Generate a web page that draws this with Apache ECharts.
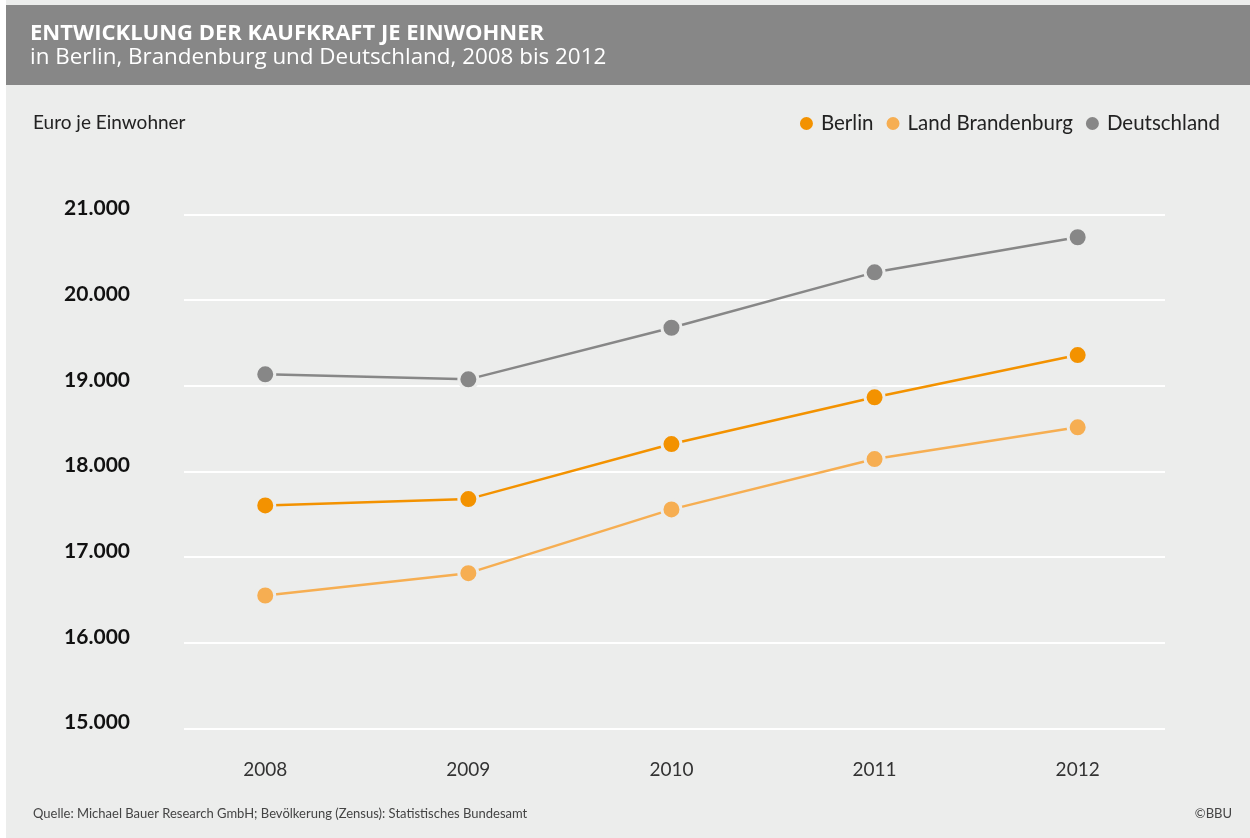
<!DOCTYPE html>
<html>
<head>
<meta charset="utf-8">
<script src="https://cdn.jsdelivr.net/npm/echarts@6/dist/echarts.min.js"></script>
<style>
  html, body { margin: 0; padding: 0; background: #ffffff; }
  #chart { width: 1250px; height: 838px; }
</style>
</head>
<body>
<div id="chart"></div>
<script>
// Purchasing power per inhabitant (Euro), 2008–2012
const years = [2008, 2009, 2010, 2011, 2012];
const berlin = [17604, 17678, 18320, 18865, 19358];
const brandenburg = [16554, 16814, 17558, 18145, 18515];
const deutschland = [19133, 19075, 19677, 20323, 20732];
const yTicks = [15000, 16000, 17000, 18000, 19000, 20000, 21000];

const BG = '#ecedec';
const FONT = 'Lato, "Open Sans", sans-serif';
const HEAD_FONT = '"Open Sans", Lato, sans-serif';

const pairs = vals => years.map((y, i) => [y, vals[i]]);
const fmt = v => String(v).replace(/\B(?=(\d{3})+(?!\d))/g, '.');

function lineSeries(name, color, vals) {
  return {
    name,
    type: 'line',
    data: pairs(vals),
    symbol: 'circle',
    symbolSize: 19,
    lineStyle: { color, width: 2.5 },
    itemStyle: { color, borderColor: BG, borderWidth: 3 },
    emphasis: { disabled: true },
    z: 3
  };
}

const chart = echarts.init(document.getElementById('chart'), null, { renderer: 'canvas' });
chart.setOption({
  animation: false,
  backgroundColor: '#ffffff',
  graphic: [
    { type: 'rect', shape: { x: 6, y: 0, width: 1244, height: 838 }, style: { fill: BG }, z: -10, silent: true },
    { type: 'rect', shape: { x: 6, y: 5, width: 1244, height: 80 }, style: { fill: '#878787' }, z: -9, silent: true },
    { type: 'text', x: 30, y: 34, style: { text: 'ENTWICKLUNG DER KAUFKRAFT JE EINWOHNER', fill: '#ffffff', font: 'bold 22px ' + HEAD_FONT, verticalAlign: 'middle' } },
    { type: 'text', x: 30, y: 58, style: { text: 'in Berlin, Brandenburg und Deutschland, 2008 bis 2012', fill: '#ffffff', font: '22.4px ' + HEAD_FONT, verticalAlign: 'middle' } },
    { type: 'text', x: 33, y: 123, style: { text: 'Euro je Einwohner', fill: '#222222', font: '19px ' + FONT, verticalAlign: 'middle' } },
    { type: 'text', x: 33, y: 814, style: { text: 'Quelle: Michael Bauer Research GmbH; Bevölkerung (Zensus): Statistisches Bundesamt', fill: '#444444', font: '13px ' + FONT, verticalAlign: 'middle' } },
    { type: 'text', x: 1232, y: 814, style: { text: '©BBU', fill: '#444444', font: '13px ' + FONT, align: 'right', verticalAlign: 'middle' } }
  ],
  legend: {
    right: 30,
    top: 113,
    padding: 0,
    icon: 'circle',
    itemWidth: 15,
    itemHeight: 15,
    itemGap: 11,
    textStyle: { color: '#222222', fontSize: 20.5, fontFamily: FONT, padding: [0, 0, 0, 2] },
    data: ['Berlin', 'Land Brandenburg', 'Deutschland']
  },
  grid: { left: 184, right: 85, top: 214.3, bottom: 109.3 },
  xAxis: {
    type: 'value',
    min: 2007.6,
    max: 2012.43,
    splitLine: { show: false },
    axisLine: { show: false },
    axisTick: { show: false },
    axisLabel: {
      showMinLabel: false,
      showMaxLabel: false,
      margin: 32,
      color: '#333333',
      fontSize: 19,
      fontFamily: FONT,
      formatter: v => (years.includes(Math.round(v * 1000) / 1000) ? String(Math.round(v)) : '')
    }
  },
  yAxis: {
    type: 'value',
    min: yTicks[0],
    max: yTicks[yTicks.length - 1],
    interval: 1000,
    axisLine: { show: false },
    axisTick: { show: false },
    splitLine: { lineStyle: { color: '#ffffff', width: 2 } },
    axisLabel: {
      margin: 54,
      color: '#111111',
      fontSize: 21,
      fontWeight: 'bold',
      fontFamily: FONT,
      verticalAlign: 'bottom',
      lineHeight: 12,
      formatter: v => fmt(v)
    }
  },
  series: [
    lineSeries('Berlin', '#f39200', berlin),
    lineSeries('Land Brandenburg', '#f6ae52', brandenburg),
    lineSeries('Deutschland', '#878787', deutschland)
  ]
});
</script>
</body>
</html>
